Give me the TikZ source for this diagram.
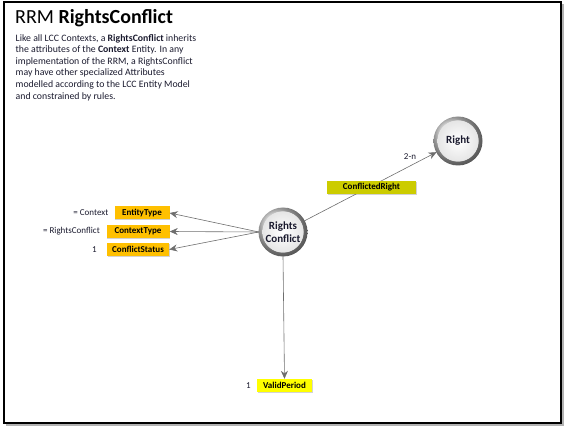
\documentclass[tikz,border=0pt]{standalone}
\usepackage{fontspec}
\setmainfont{Carlito}
\usetikzlibrary{arrows.meta,shadows,calc}
\definecolor{gold}{HTML}{FFC000}
\definecolor{olive}{HTML}{CCCC00}
\definecolor{yel}{HTML}{FFFF00}
\definecolor{ink}{HTML}{1A1A2E}
\definecolor{conn}{HTML}{6E6E6E}
\tikzset{
  attr/.style={fill=#1, font=\fontsize{9}{10}\selectfont\bfseries, text=black, inner sep=0pt, minimum height=13pt, drop shadow={shadow xshift=0.8pt, shadow yshift=-0.8pt, opacity=0.35}},
  ball/.style={circle, minimum size=48pt, inner sep=0pt, font=\fontsize{11}{13}\selectfont\bfseries, text=ink, align=center},
  conn/.style={draw=conn, line width=0.6pt, -{Stealth[length=8pt,width=7pt]}},
  side/.style={font=\fontsize{9}{10}\selectfont, text=ink, anchor=east, inner sep=0pt}
}
\newcommand{\ballbg}[1]{%
  \shade[ball color=gray!32] (#1) circle (24.5pt);
  \fill[gray!12] (#1) circle (20.5pt);
  \shade[inner color=white, outer color=gray!20] (#1) circle (20.5pt);
}
\begin{document}
\begin{tikzpicture}[x=1pt,y=-1pt]
\useasboundingbox (0,0) rectangle (567,430);
% frame
\draw[gray!60, line width=2pt] (6,424.5) -- (562.5,424.5) -- (562.5,4);
\draw[black, line width=1.1pt] (4,2) rectangle (561,423);
% title and text
\node[anchor=base west, inner sep=0pt, font=\fontsize{20}{22}\selectfont] (title) at (15,24) {RRM \textbf{RightsConflict}};
\node[anchor=north west, inner sep=0pt, align=left, font=\fontsize{9.8}{11.6}\selectfont, text=ink] (desc) at (15.5,34)
 {Like all LCC Contexts, a \textbf{RightsConflict} inherits\\
  the attributes of the \textbf{Context} Entity. In any\\
  implementation of the RRM, a RightsConflict\\
  may have other specialized Attributes\\
  modelled according to the LCC Entity Model\\
  and constrained by rules.};
% balls
\ballbg{283,232}
\ballbg{458,141}
\node[ball] (rc) at (283,232) {Rights\\Conflict};
\node[ball] (right) at (458,141) {Right};
% attribute boxes
\node[attr=gold, minimum width=55pt] (et) at (142,213) {EntityType};
\node[attr=gold, minimum width=63pt] (ct) at (138,231.5) {ContextType};
\node[attr=gold, minimum width=62pt] (cs) at (138,249.5) {ConflictStatus};
\node[attr=yel, minimum width=55pt] (vp) at (284.5,385.5) {ValidPeriod};
% connectors
\draw[conn] (rc.west) -- (et.east);
\draw[conn] (rc.west) -- (ct.east);
\draw[conn] (rc.west) -- (cs.east);
\draw[conn] (rc.south) -- (vp.north);
\draw[conn] (rc) -- (right);
\node[attr=olive, minimum width=89pt] (cr) at (371.5,187.5) {ConflictedRight};
% side labels
\node[side] (l1) at (108.5,213) {= Context};
\node[side] (l2) at (100,231.5) {= RightsConflict};
\node[side] (l3) at (97,249.5) {1};
\node[side] (l4) at (251,385.5) {1};
\node[font=\fontsize{9}{10}\selectfont, text=ink, inner sep=0pt] (card) at (410,157) {2-n};
\end{tikzpicture}
\end{document}
